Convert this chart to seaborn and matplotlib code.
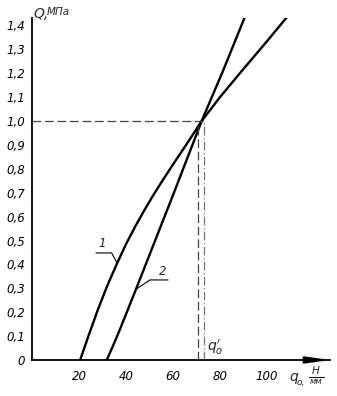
import numpy as np
import pandas as pd
import matplotlib
matplotlib.use("Agg")
import matplotlib.pyplot as plt
import seaborn as sns

# ---- data ----
curve1_q = [20.5, 24.0, 28.0, 32.0, 36.0, 40.0, 44.0, 48.0, 52.0, 56.0, 60.0,
            64.0, 68.0, 72.2, 80.0, 90.0, 100.0, 108.6]
curve1_v = [0.0, 0.10, 0.21, 0.31, 0.40, 0.485, 0.56, 0.63, 0.696, 0.758, 0.818,
            0.877, 0.936, 1.0, 1.100, 1.218, 1.334, 1.436]
curve2_q = [31.8, 34.5, 37.5, 44.0, 52.0, 60.0, 72.2, 81.4, 90.6]
curve2_v = [0.0, 0.06, 0.13, 0.29, 0.49, 0.69, 1.0, 1.213, 1.436]
x_ticks = [20, 40, 60, 80, 100]
y_ticks = [0, 0.1, 0.2, 0.3, 0.4, 0.5, 0.6, 0.7, 0.8, 0.9, 1.0, 1.1, 1.2, 1.3, 1.4]
y_tick_labels = ["0", "0,1", "0,2", "0,3", "0,4", "0,5", "0,6", "0,7", "0,8",
                 "0,9", "1,0", "1,1", "1,2", "1,3", "1,4"]
q_ref_level = 1.0
q0_prime = 70.7
q0_cross = 73.0

df = pd.concat([
    pd.DataFrame({"q": curve1_q, "Q": curve1_v, "curve": "1"}),
    pd.DataFrame({"q": curve2_q, "Q": curve2_v, "curve": "2"}),
])

sns.set_theme(style="white")
plt.rcParams["font.family"] = ["DejaVu Sans"]

W, H = 337, 396
fig = plt.figure(figsize=(W / 100, H / 100), dpi=100)
ax = fig.add_axes([32 / W, (H - 360) / H, (330 - 32) / W, (360 - 18) / H])

sns.lineplot(data=df, x="q", y="Q", hue="curve", palette=["black", "black"],
             linewidth=1.7, legend=False, ax=ax, sort=False, estimator=None)

ax.set_xlim(0, 126.8)
ax.set_ylim(0, 1.431)

# dashed guide lines
dash = dict(color="#444444", lw=0.9, dashes=(7, 3))
ax.plot([0, q0_cross], [q_ref_level, q_ref_level], **dash)
ax.plot([q0_prime, q0_prime], [0, q_ref_level - 0.02], **dash)
ax.plot([q0_cross, q0_cross], [0, q_ref_level], color="#777777", lw=0.9, dashes=(7, 2, 1, 2))

# spines / ticks
for s in ["top", "right"]:
    ax.spines[s].set_visible(False)
for s in ["left", "bottom"]:
    ax.spines[s].set_linewidth(1.3)
    ax.spines[s].set_color("black")

ax.set_xticks(x_ticks)
ax.set_xticklabels([str(v) for v in x_ticks], fontstyle="italic", fontsize=8.5)
ax.set_yticks(y_ticks)
ax.set_yticklabels(y_tick_labels, fontstyle="italic", fontsize=8.5)
ax.tick_params(axis="both", direction="inout", length=4, width=0.8, colors="black",
               labelcolor="black")
ax.tick_params(axis="x", pad=5)
ax.tick_params(axis="y", pad=3)
ax.set_xlabel("")
ax.set_ylabel("")

# arrow at end of x axis
ax.annotate("", xy=(1.0, 0), xytext=(0.92, 0), xycoords="axes fraction",
            arrowprops=dict(arrowstyle="-|>,head_length=1.2,head_width=0.17",
                            color="black", lw=1.3, shrinkA=0, shrinkB=0),
            annotation_clip=False)

# curve labels with leader lines
p1 = 0.405
x1 = float(np.interp(p1, curve1_v, curve1_q))
ax.plot([27.2, 33.9, x1], [0.448, 0.448, p1], color="black", lw=0.8)
ax.text(29.7, 0.46, "1", fontsize=8.5, fontstyle="italic", ha="center", va="bottom")

p2 = 0.296
x2 = float(np.interp(p2, curve2_v, curve2_q))
ax.plot([x2, 50.2, 57.9], [p2, 0.335, 0.335], color="black", lw=0.8)
ax.text(55.7, 0.345, "2", fontsize=8.5, fontstyle="italic", ha="center", va="bottom")

# axis titles
fig.text(33 / W, 1 - 14 / H, "Q,", fontsize=10, fontstyle="italic", va="center", ha="left")
fig.text(47 / W, 1 - 12 / H, "МПа", fontsize=7.5, fontstyle="italic", va="center", ha="left")

fig.text(289 / W, 1 - 377 / H, "q", fontsize=10, fontstyle="italic", va="center", ha="left")
fig.text(297 / W, 1 - 383 / H, "o,", fontsize=6.5, fontstyle="italic", va="center", ha="left")
fig.text(316 / W, 1 - 371 / H, "Н", fontsize=7.5, fontstyle="italic", va="center", ha="center")
fig.add_artist(plt.Line2D([309 / W, 324 / W], [1 - 377 / H, 1 - 377 / H],
                          color="black", lw=0.7))
fig.text(316 / W, 1 - 382 / H, "мм", fontsize=6, fontstyle="italic", va="center", ha="center")

fig.text(207 / W, 1 - 347 / H, r"$q_o'$", fontsize=10, va="center", ha="left")

fig.savefig("out.png", dpi=100, facecolor="white")
